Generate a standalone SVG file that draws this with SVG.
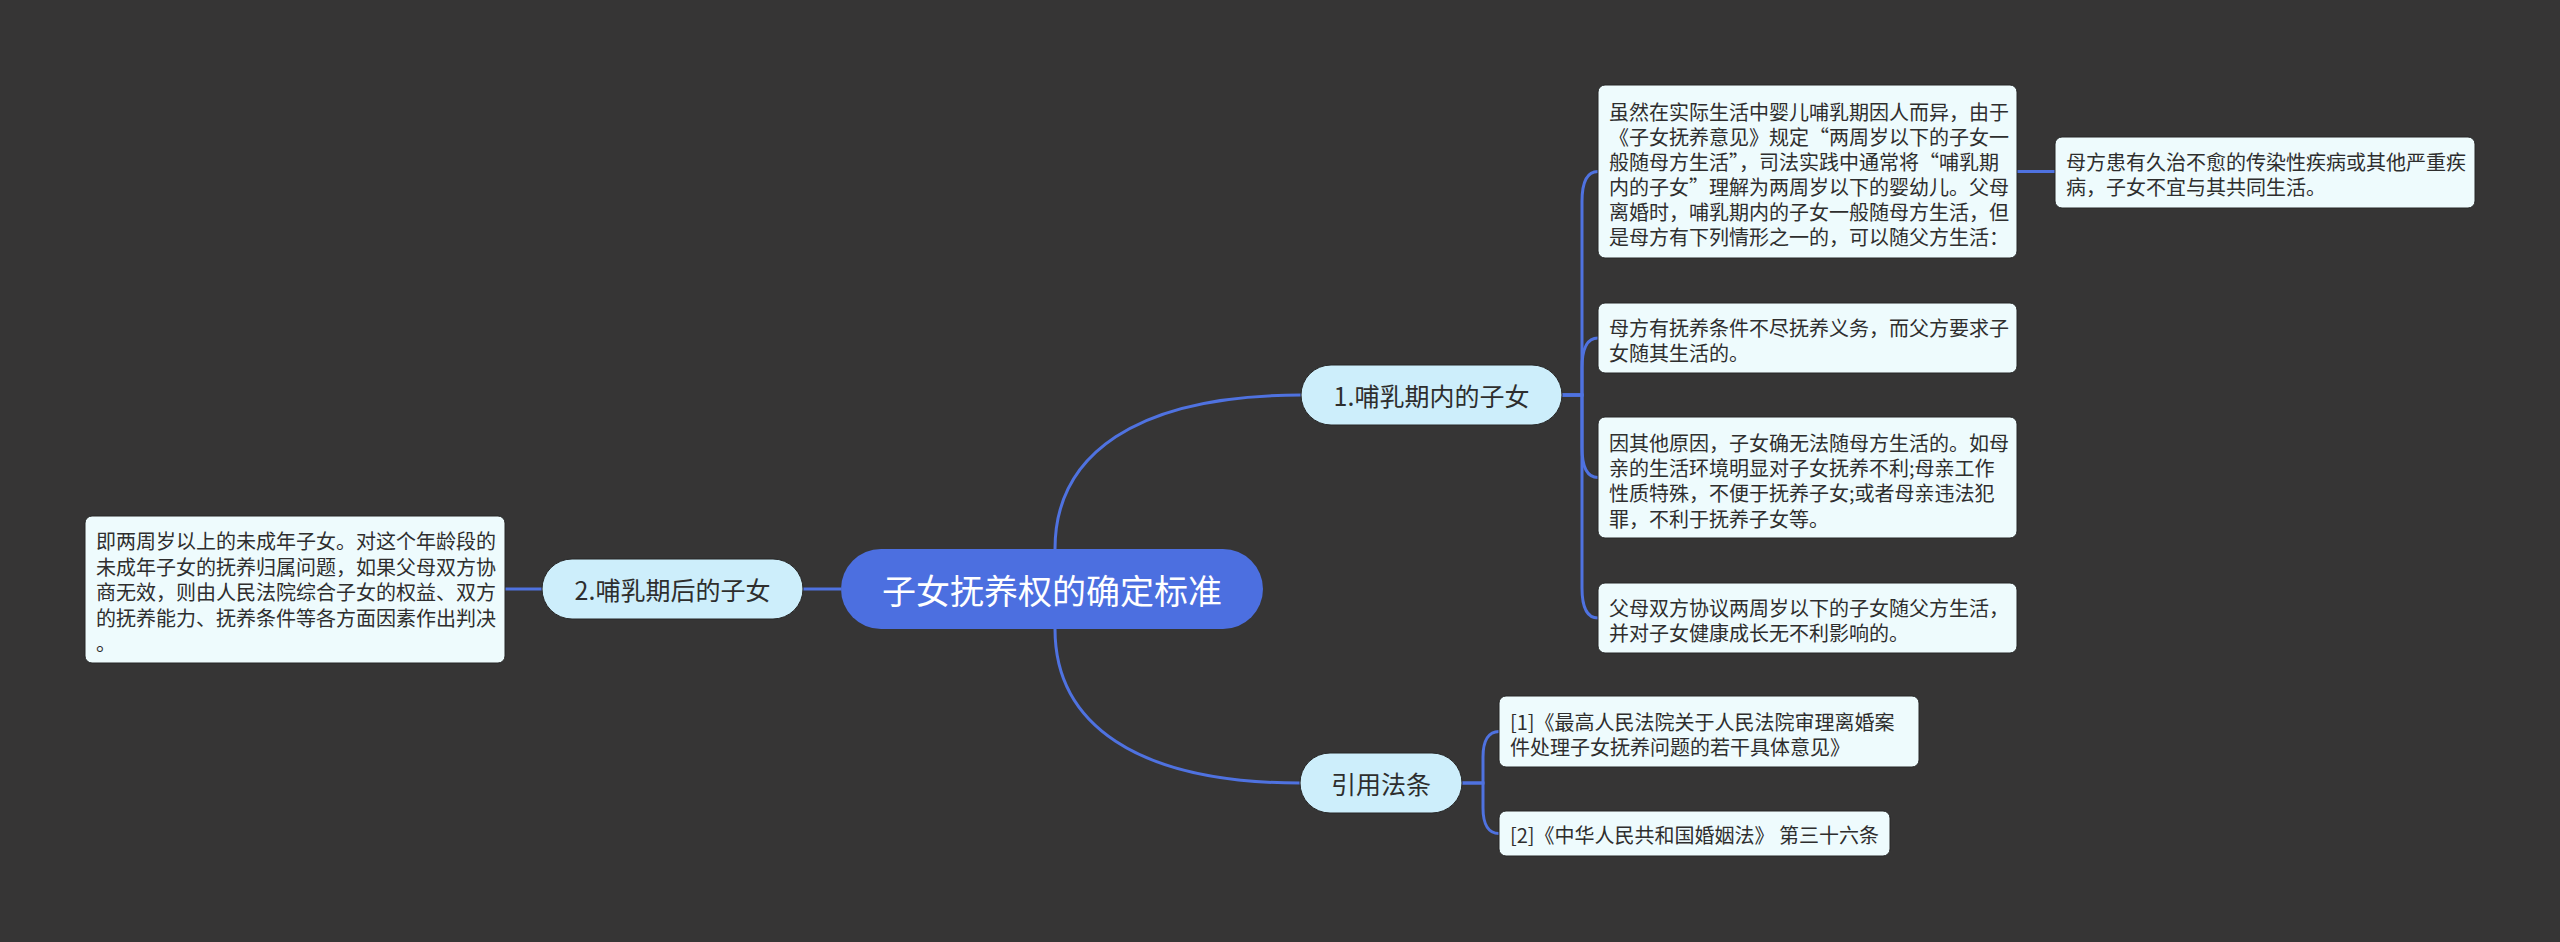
<svg xmlns="http://www.w3.org/2000/svg" width="2560" height="942" viewBox="0 0 2560 942">
<style>
.bg{fill:#363535}
.box{fill:#eefbfd;stroke:#262626;stroke-width:1}
.pill{fill:#cdeefb;stroke:#262626;stroke-width:1}
.root{fill:#4c6fe0}
.t{font-family:"Noto Sans CJK SC","Noto Sans",sans-serif;font-size:20px;fill:#2e2e2e;dominant-baseline:central}
.pt{font-family:"Noto Sans CJK SC","Noto Sans",sans-serif;font-size:25px;fill:#2e2e2e;dominant-baseline:central;text-anchor:middle}
.rt{font-family:"Noto Sans CJK SC","Noto Sans",sans-serif;font-size:34px;fill:#ffffff;dominant-baseline:central;text-anchor:middle}
.c{fill:none;stroke:#4f72e0;stroke-width:3}
</style>
<rect class="bg" x="0" y="0" width="2560" height="942"/>
<g id="connectors">
<path class="c" d="M505 589 H542"/>
<path class="c" d="M803 589 H841"/>
<path class="c" d="M1055 549 C1055 455 1135 395 1301 395"/>
<path class="c" d="M1055 629 C1055 723 1135 783 1300 783"/>
<path class="c" d="M1562 395 H1582 V201.5 C1582 181 1588 171.5 1598 171.5"/>
<path class="c" d="M1562 395 H1582 V368 C1582 347 1588 338 1598 338"/>
<path class="c" d="M1562 395 H1582 V447.5 C1582 468 1588 477.5 1598 477.5"/>
<path class="c" d="M1562 395 H1582 V588 C1582 609 1588 618 1598 618"/>
<path class="c" d="M2017 171.5 H2055"/>
<path class="c" d="M1462 783 H1483 V757 C1483 740 1489 731.5 1499 731.5"/>
<path class="c" d="M1462 783 H1483 V808 C1483 825 1489 833.5 1499 833.5"/>
</g>
<g id="root">
<rect class="root" x="841" y="549" width="422" height="80" rx="40"/>
<text class="rt" x="1052" y="589">子女抚养权的确定标准</text>
</g>
<g id="branch1">
<rect class="pill" x="1301" y="365" width="261" height="60" rx="30"/>
<text class="pt" x="1431.5" y="395">1.哺乳期内的子女</text>
</g>
<g id="branch2">
<rect class="pill" x="542" y="559" width="261" height="60" rx="30"/>
<text class="pt" x="672.5" y="589">2.哺乳期后的子女</text>
</g>
<g id="branch3">
<rect class="pill" x="1300" y="753" width="162" height="60" rx="30"/>
<text class="pt" x="1381" y="783">引用法条</text>
</g>
<g id="leaf1">
<rect class="box" x="1598" y="85" width="419" height="173" rx="7"/>
<text class="t" x="1609" y="111.7">虽然在实际生活中婴儿哺乳期因人而异，由于</text>
<text class="t" x="1609" y="136.7">《子女抚养意见》规定“两周岁以下的子女一</text>
<text class="t" x="1609" y="161.7">般随母方生活”，司法实践中通常将“哺乳期</text>
<text class="t" x="1609" y="186.7">内的子女”理解为两周岁以下的婴幼儿。父母</text>
<text class="t" x="1609" y="211.7">离婚时，哺乳期内的子女一般随母方生活，但</text>
<text class="t" x="1609" y="236.7">是母方有下列情形之一的，可以随父方生活：</text>
</g>
<g id="leaf1a">
<rect class="box" x="2055" y="137" width="420" height="71" rx="7"/>
<text class="t" x="2066" y="161.5">母方患有久治不愈的传染性疾病或其他严重疾</text>
<text class="t" x="2066" y="186.5">病，子女不宜与其共同生活。</text>
</g>
<g id="leaf2">
<rect class="box" x="1598" y="303" width="419" height="70" rx="7"/>
<text class="t" x="1609" y="327">母方有抚养条件不尽抚养义务，而父方要求子</text>
<text class="t" x="1609" y="352">女随其生活的。</text>
</g>
<g id="leaf3">
<rect class="box" x="1598" y="417" width="419" height="121" rx="7"/>
<text class="t" x="1609" y="442">因其他原因，子女确无法随母方生活的。如母</text>
<text class="t" x="1609" y="467">亲的生活环境明显对子女抚养不利;母亲工作</text>
<text class="t" x="1609" y="492.5">性质特殊，不便于抚养子女;或者母亲违法犯</text>
<text class="t" x="1609" y="518">罪，不利于抚养子女等。</text>
</g>
<g id="leaf4">
<rect class="box" x="1598" y="583" width="419" height="70" rx="7"/>
<text class="t" x="1609" y="607">父母双方协议两周岁以下的子女随父方生活，</text>
<text class="t" x="1609" y="632">并对子女健康成长无不利影响的。</text>
</g>
<g id="leaf5">
<rect class="box" x="85" y="516" width="420" height="147" rx="7"/>
<text class="t" x="96" y="540.5">即两周岁以上的未成年子女。对这个年龄段的</text>
<text class="t" x="96" y="566">未成年子女的抚养归属问题，如果父母双方协</text>
<text class="t" x="96" y="591.5">商无效，则由人民法院综合子女的权益、双方</text>
<text class="t" x="96" y="617">的抚养能力、抚养条件等各方面因素作出判决</text>
<text class="t" x="96" y="642">。</text>
</g>
<g id="ref1">
<rect class="box" x="1499" y="696" width="420" height="71" rx="7"/>
<text class="t" x="1510" y="721.7">[1]《最高人民法院关于人民法院审理离婚案</text>
<text class="t" x="1510" y="746.7">件处理子女抚养问题的若干具体意见》</text>
</g>
<g id="ref2">
<rect class="box" x="1499" y="811" width="391" height="45" rx="7"/>
<text class="t" x="1510" y="834">[2]《中华人民共和国婚姻法》 第三十六条</text>
</g>
</svg>
